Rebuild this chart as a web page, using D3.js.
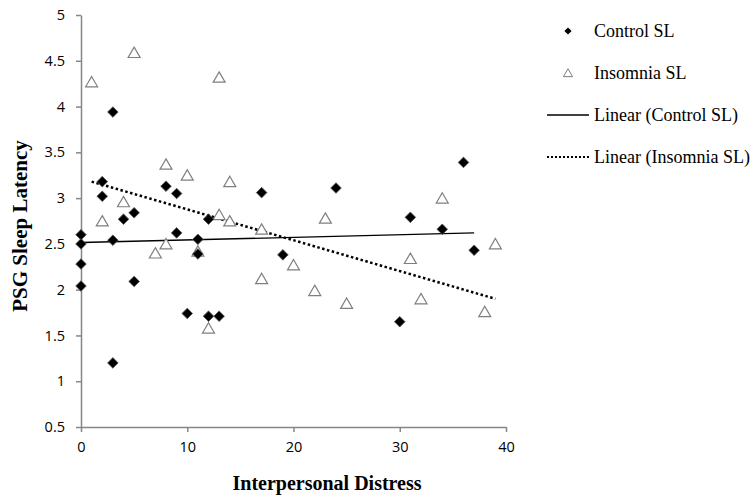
<!DOCTYPE html>
<html><head><meta charset="utf-8">
<script src="https://cdn.jsdelivr.net/npm/d3@7"></script>
<style>body{margin:0;background:#fff}</style>
</head><body><svg id="c" width="754" height="500"></svg>
<script>
const controlX = [0,0,0,0,2,2,3,3,3,4,5,5,8,9,9,10,11,11,12,12,13,17,19,24,30,31,34,36,37];
const controlY = [2.60,2.50,2.28,2.04,3.18,3.02,3.94,2.54,1.20,2.77,2.84,2.09,3.13,3.05,2.62,1.74,2.55,2.39,2.77,1.71,1.71,3.06,2.38,3.11,1.65,2.79,2.66,3.39,2.43];
const insomniaX = [1,2,4,5,7,8,8,10,11,12,13,13,14,14,17,17,20,22,23,25,31,32,34,38,39];
const insomniaY = [4.27,2.75,2.96,4.59,2.40,3.37,2.50,3.25,2.42,1.58,4.32,2.82,3.18,2.75,2.66,2.12,2.27,1.99,2.78,1.85,2.34,1.90,3.00,1.76,2.50];
// trendline end points
const controlTrendX = [0,37];
const controlTrendY = [2.515,2.62];
const insomniaTrendX = [1,39];
const insomniaTrendY = [3.18,1.90];
const xTicks = [0,10,20,30,40];
const yTicks = [0.5,1,1.5,2,2.5,3,3.5,4,4.5,5];
const legendLabels = ["Control SL","Insomnia SL","Linear (Control SL)","Linear (Insomnia SL)"];

const svg = d3.select("#c");
const x = d3.scaleLinear().domain([0,40]).range([81,506]);
const y = d3.scaleLinear().domain([0.5,5]).range([427,15]);
const axisColor = "#868686";

const xa = svg.append("g").attr("transform","translate(0,427)")
  .call(d3.axisBottom(x).tickValues(xTicks).tickSize(5).tickSizeOuter(0).tickPadding(10));
const ya = svg.append("g").attr("transform","translate(81,0)")
  .call(d3.axisLeft(y).tickValues(yTicks).tickSize(5).tickSizeOuter(0).tickPadding(11).tickFormat(d3.format("")));
[xa,ya].forEach(a=>{
  a.select(".domain").attr("stroke",axisColor).attr("stroke-width",1.5);
  a.selectAll(".tick line").attr("stroke",axisColor).attr("stroke-width",1.5);
  a.selectAll("text").attr("fill","#000").style("font-family","'Open Sans', 'Liberation Sans', sans-serif").style("font-size","14.5px");
});

const line = d3.line().x(d=>x(d[0])).y(d=>y(d[1]));
svg.append("path").attr("d", line(controlTrendX.map((t,i)=>[t,controlTrendY[i]]))).attr("stroke","#000").attr("stroke-width",1.3).attr("fill","none");
svg.append("path").attr("d", line(insomniaTrendX.map((t,i)=>[t,insomniaTrendY[i]]))).attr("stroke","#000").attr("stroke-width",2.5).attr("stroke-dasharray","2.5,2.5").attr("fill","none");

const tri = d3.symbol().type(d3.symbolTriangle).size(62);
const dia = d3.symbol().type(d3.symbolSquare).size(56);

svg.append("g").selectAll("path").data(insomniaX.map((v,i)=>[v,insomniaY[i]])).join("path")
  .attr("d",tri).attr("transform",d=>`translate(${x(d[0])},${y(d[1])+1.5})`)
  .attr("fill","#fff").attr("stroke","#7f7f7f").attr("stroke-width",1.2);
svg.append("g").selectAll("path").data(controlX.map((v,i)=>[v,controlY[i]])).join("path")
  .attr("d",dia).attr("transform",d=>`translate(${x(d[0])},${y(d[1])}) rotate(45)`)
  .attr("fill","#000").attr("stroke","#555").attr("stroke-width",0.8);

svg.append("text").attr("x",327).attr("y",490).attr("text-anchor","middle")
  .style("font-family","'Liberation Serif', serif").style("font-weight","bold").style("font-size","20px").text("Interpersonal Distress");
svg.append("text").attr("transform","translate(27,226) rotate(-90)").attr("text-anchor","middle")
  .style("font-family","'Liberation Serif', serif").style("font-weight","bold").style("font-size","21px").text("PSG Sleep Latency");

const lg = svg.append("g");
const ly = [31,73,115,157];
lg.append("path").attr("d",d3.symbol().type(d3.symbolSquare).size(26)()).attr("transform",`translate(568,${ly[0]}) rotate(45)`).attr("fill","#000");
lg.append("path").attr("d",d3.symbol().type(d3.symbolTriangle).size(36)()).attr("transform",`translate(568,${ly[1]+1})`).attr("fill","#fff").attr("stroke","#7f7f7f").attr("stroke-width",1);
lg.append("line").attr("x1",547).attr("x2",589).attr("y1",ly[2]).attr("y2",ly[2]).attr("stroke","#000").attr("stroke-width",1.3);
lg.append("line").attr("x1",547).attr("x2",589).attr("y1",ly[3]).attr("y2",ly[3]).attr("stroke","#000").attr("stroke-width",2).attr("stroke-dasharray","2,2");
legendLabels.forEach((t,i)=>{
  lg.append("text").attr("x",594).attr("y",ly[i]+6)
    .style("font-family","'Liberation Serif', serif").style("font-size","18px").text(t);
});
</script></body></html>
